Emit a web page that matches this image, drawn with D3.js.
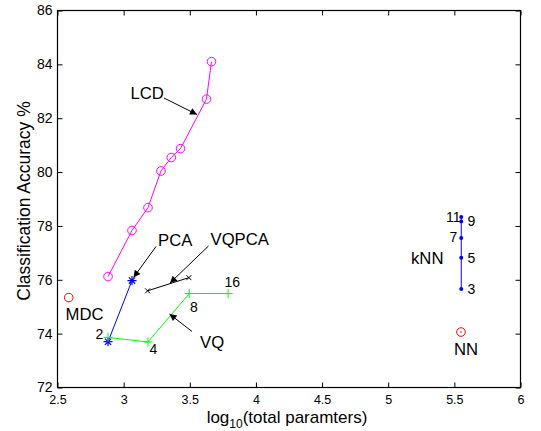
<!DOCTYPE html>
<html><head><meta charset="utf-8">
<script src="https://cdn.jsdelivr.net/npm/d3@7"></script>
<style>body{margin:0;background:#fff}svg{font-family:Arial,"Liberation Sans",sans-serif}</style>
</head><body>
<svg id="c" width="541" height="431"></svg>
<script>
const xTicks = [2.5,3,3.5,4,4.5,5,5.5,6];
const xTickLabels = ["2.5","3","3.5","4","4.5","5","5.5","6"];
const yTicks = [72,74,76,78,80,82,84,86];
const yTickLabels = ["72","74","76","78","80","82","84","86"];

const lcdX = [2.882,3.063,3.184,3.282,3.360,3.430,3.626,3.664];
const lcdY = [76.12,77.83,78.68,80.04,80.54,80.87,82.71,84.10];
const pcaX = [2.882,3.063];
const pcaY = [73.70,75.97];
const vqpcaX = [3.181,3.493];
const vqpcaY = [75.59,76.08];
const vqX = [2.882,3.184,3.496,3.790];
const vqY = [73.86,73.69,75.49,75.49];
const vqLabels = ["2","4","8","16"];
const knnX = [5.552,5.552,5.552,5.552,5.552];
const knnY = [75.66,76.82,77.55,78.16,78.33];
const knnLabels = ["3","5","7","9","11"];
const mdcX = [2.585], mdcY = [75.34];
const nnX = [5.550], nnY = [74.06];

const svg = d3.select("#c");
const L=57.5, R=520.5, T=10.5, B=387.5;
const x = d3.scaleLinear().domain([2.5,6]).range([L,R]);
const y = d3.scaleLinear().domain([72,86]).range([B,T]);

const defs = svg.append("defs");
defs.append("marker").attr("id","arr").attr("viewBox","0 0 10 10").attr("refX",10).attr("refY",5)
  .attr("markerWidth",10).attr("markerHeight",7).attr("markerUnits","userSpaceOnUse").attr("orient","auto")
  .append("path").attr("d","M0,0L10,5L0,10z").attr("fill","#000");

// axes
const ax = d3.axisBottom(x).tickValues(xTicks).tickFormat((d,i)=>xTickLabels[i]).tickSizeInner(-5).tickSizeOuter(0).tickPadding(7.2);
const ay = d3.axisLeft(y).tickValues(yTicks).tickFormat((d,i)=>yTickLabels[i]).tickSizeInner(-5).tickSizeOuter(0).tickPadding(5);
const ax2 = d3.axisTop(x).tickValues(xTicks).tickFormat("").tickSizeInner(-5).tickSizeOuter(0);
const ay2 = d3.axisRight(y).tickValues(yTicks).tickFormat("").tickSizeInner(-5).tickSizeOuter(0);
const gx = svg.append("g").attr("transform",`translate(0,${B})`).call(ax);
const gy = svg.append("g").attr("transform",`translate(${L},0)`).call(ay);
svg.append("g").attr("transform",`translate(0,${T})`).call(ax2);
svg.append("g").attr("transform",`translate(${R},0)`).call(ay2);
svg.selectAll(".domain").remove();
svg.selectAll(".tick line").attr("stroke","#000");
svg.selectAll(".tick text").attr("fill","#000").attr("font-family","Arial,'Liberation Sans',sans-serif");
gx.selectAll(".tick text").attr("font-size",12.5);
gy.selectAll(".tick text").attr("font-size",14);
svg.append("rect").attr("x",L).attr("y",T).attr("width",R-L).attr("height",B-T).attr("fill","none").attr("stroke","#000").attr("stroke-width",1.2);

// axis titles
const xt = svg.append("text").attr("x",287).attr("y",422.5).attr("text-anchor","middle").attr("font-size",17).attr("fill","#000");
xt.append("tspan").text("log");
xt.append("tspan").attr("font-size",12).attr("dy",5).text("10");
xt.append("tspan").attr("dy",-5).text("(total paramters)");
svg.append("text").attr("transform","translate(30,201) rotate(-90)").attr("text-anchor","middle").attr("font-size",17.5).attr("fill","#000").text("Classification Accuracy %");

const line = d3.line().x(d=>x(d[0])).y(d=>y(d[1]));
const zip = (a,b)=>a.map((v,i)=>[v,b[i]]);

// LCD
const lcd = zip(lcdX,lcdY);
svg.append("path").attr("d",line(lcd)).attr("fill","none").attr("stroke","#ff00ff").attr("stroke-width",1);
svg.selectAll(".lcd").data(lcd).enter().append("circle").attr("cx",d=>x(d[0])).attr("cy",d=>y(d[1])).attr("r",4.3)
  .attr("fill","none").attr("stroke","#ff00ff").attr("stroke-width",1);

// PCA
const pca = zip(pcaX,pcaY);
svg.append("path").attr("d",line(pca)).attr("fill","none").attr("stroke","#0000ff").attr("stroke-width",1);
function star(g,cx,cy,s,col){
  const p = `M${cx-s},${cy}L${cx+s},${cy}M${cx},${cy-s}L${cx},${cy+s}M${cx-s*0.7},${cy-s*0.7}L${cx+s*0.7},${cy+s*0.7}M${cx-s*0.7},${cy+s*0.7}L${cx+s*0.7},${cy-s*0.7}`;
  g.append("path").attr("d",p).attr("stroke",col).attr("stroke-width",1.2).attr("fill","none");
}
pca.forEach(d=>star(svg,x(d[0]),y(d[1]),4.5,"#0000ff"));

// VQ
const vq = zip(vqX,vqY);
svg.append("path").attr("d",line(vq)).attr("fill","none").attr("stroke","#00ff00").attr("stroke-width",1);
vq.forEach(d=>{const cx=x(d[0]),cy=y(d[1]),s=4.5;
  svg.append("path").attr("d",`M${cx-s},${cy}L${cx+s},${cy}M${cx},${cy-s}L${cx},${cy+s}`).attr("stroke","#00ff00").attr("stroke-width",1);});

// VQPCA
const vqp = zip(vqpcaX,vqpcaY);
svg.append("path").attr("d",line(vqp)).attr("fill","none").attr("stroke","#000").attr("stroke-width",1);
vqp.forEach(d=>{const cx=x(d[0]),cy=y(d[1]),s=2.5;
  svg.append("path").attr("d",`M${cx-s},${cy-s}L${cx+s},${cy+s}M${cx-s},${cy+s}L${cx+s},${cy-s}`).attr("stroke","#000").attr("stroke-width",1);});

// kNN
const knn = zip(knnX,knnY);
svg.append("path").attr("d",line(knn.slice().sort((a,b)=>a[1]-b[1]))).attr("fill","none").attr("stroke","#0000ff").attr("stroke-width",1);
svg.selectAll(".knn").data(knn).enter().append("circle").attr("cx",d=>x(d[0])).attr("cy",d=>y(d[1])).attr("r",2).attr("fill","#0000ff");

// MDC, NN
svg.append("circle").attr("cx",x(mdcX[0])).attr("cy",y(mdcY[0])).attr("r",4.3).attr("fill","none").attr("stroke","#ff0000").attr("stroke-width",1);
svg.append("circle").attr("cx",x(nnX[0])).attr("cy",y(nnY[0])).attr("r",4.3).attr("fill","none").attr("stroke","#ff0000").attr("stroke-width",1);
svg.append("circle").attr("cx",x(nnX[0])).attr("cy",y(nnY[0])).attr("r",0.8).attr("fill","#ff0000");

// labels
function txt(t,px,py,fs,anchor){svg.append("text").attr("x",px).attr("y",py).attr("font-size",fs).attr("text-anchor",anchor||"start").attr("fill","#000").text(t);}
txt("LCD",130.5,99,16.7);
txt("PCA",158,246,16.7);
txt("VQPCA",210.5,245,16.7);
txt("VQ",200,347.5,16.7);
txt("MDC",65.5,320,16.7);
txt("NN",454,355,16.7);
txt("kNN",411,263.5,16.7);

// numeric labels
const nfs = 14;
txt(vqLabels[0],95.5,339,nfs);
txt(vqLabels[1],149.5,354,nfs);
txt(vqLabels[2],190,311.5,nfs);
txt(vqLabels[3],224.5,286.5,nfs);
txt(knnLabels[0],467.5,294,nfs);
txt(knnLabels[1],467.5,262.5,nfs);
txt(knnLabels[2],449.5,242,nfs);
txt(knnLabels[3],467.5,226,nfs);
txt(knnLabels[4],446,222,nfs);

// arrows
function arrow(x1,y1,x2,y2){svg.append("line").attr("x1",x1).attr("y1",y1).attr("x2",x2).attr("y2",y2).attr("stroke","#000").attr("stroke-width",1).attr("marker-end","url(#arr)");}
arrow(164,98,197,114.5);
arrow(156,246.5,133.5,277.5);
arrow(208.5,246,170,283);
arrow(192,331.5,169.5,314);
</script>
</body></html>
